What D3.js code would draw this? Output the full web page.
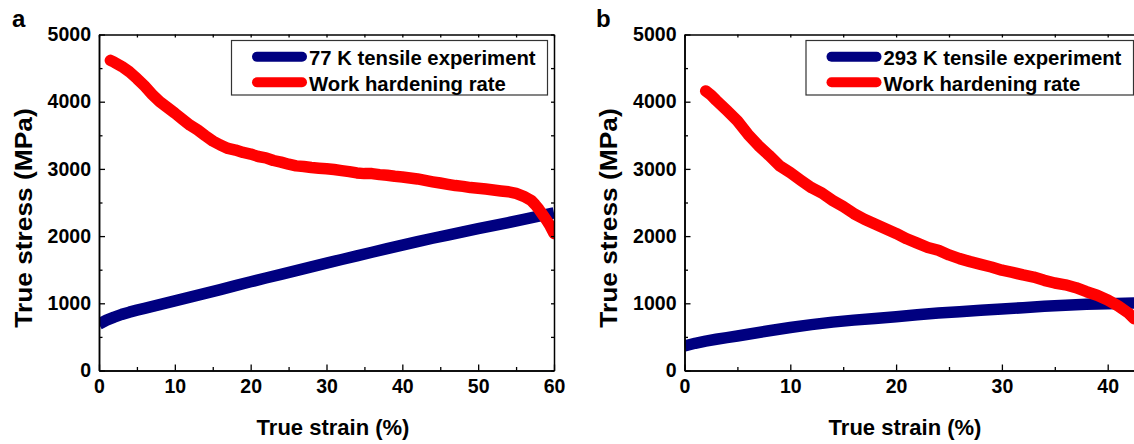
<!DOCTYPE html>
<html>
<head>
<meta charset="utf-8">
<script src="https://cdn.jsdelivr.net/npm/d3@7"></script>
<style>
  html, body { margin: 0; padding: 0; background: #fff; }
  svg { display: block; }
  text { font-family: "Liberation Sans", Arial, Helvetica, sans-serif; font-weight: bold; fill: #000; }
</style>
</head>
<body>
<svg id="chart" width="1134" height="444"></svg>
<script>
// ---- Panel a: 77 K ----
const strainA77 = [0, 1, 2, 3, 4, 5, 6, 8, 10, 12, 14, 16, 18, 20, 22, 24, 26, 28, 30, 32, 34, 36, 38, 40, 42, 44, 46, 48, 50, 52, 54, 56, 58, 60];
const stressA77 = [690, 750, 795, 835, 868, 898, 925, 980, 1036, 1092, 1148, 1204, 1262, 1320, 1376, 1430, 1486, 1542, 1598, 1652, 1706, 1760, 1814, 1866, 1918, 1968, 2016, 2064, 2110, 2156, 2202, 2248, 2296, 2345];

const strainAHard = [1.5, 2, 3, 4, 5, 6, 7, 8, 9, 10, 11, 12, 13, 14, 15, 16, 17, 18, 19, 20, 21, 22, 23, 24, 25, 26, 27, 28, 29, 30, 31, 32, 33, 34, 35, 36, 37, 38, 39, 40, 41, 42, 43, 44, 45, 46, 47, 48, 49, 50, 51, 52, 53, 54, 55, 56, 57, 57.5, 58, 58.5, 59, 59.5, 60];
const hardA = [4615, 4588, 4525, 4445, 4345, 4235, 4110, 4000, 3915, 3830, 3740, 3650, 3580, 3495, 3415, 3355, 3305, 3280, 3245, 3220, 3185, 3165, 3125, 3100, 3070, 3045, 3035, 3020, 3010, 3002, 2990, 2975, 2960, 2940, 2930, 2930, 2915, 2905, 2890, 2880, 2865, 2850, 2828, 2808, 2790, 2770, 2752, 2740, 2722, 2712, 2700, 2686, 2672, 2660, 2635, 2592, 2530, 2470, 2400, 2320, 2240, 2150, 2040];

// ---- Panel b: 293 K ----
const strainB293 = [0, 1, 2, 3, 4, 5, 6, 8, 10, 12, 14, 16, 18, 20, 22, 24, 26, 28, 30, 32, 34, 36, 38, 40, 43];
const stressB293 = [365, 405, 438, 465, 490, 514, 540, 592, 640, 682, 720, 750, 775, 800, 830, 855, 875, 895, 915, 935, 955, 970, 985, 995, 1008];

const strainBHard = [2, 2.5, 3, 4, 5, 6, 7, 8, 9, 10, 11, 12, 13, 14, 15, 16, 17, 18, 19, 20, 21, 22, 23, 24, 25, 26, 27, 28, 29, 30, 31, 32, 33, 34, 35, 36, 37, 38, 39, 40, 41, 42, 42.5];
const hardB = [4160, 4100, 4020, 3870, 3715, 3515, 3345, 3200, 3045, 2945, 2830, 2720, 2640, 2530, 2440, 2335, 2250, 2180, 2110, 2040, 1960, 1895, 1830, 1790, 1720, 1665, 1620, 1580, 1540, 1492, 1460, 1422, 1390, 1342, 1302, 1275, 1232, 1172, 1120, 1050, 960, 850, 770];

// ---- Axes and labels ----
const yTicks = [0, 1000, 2000, 3000, 4000, 5000];
const yMinor = [500, 1500, 2500, 3500, 4500];
const xTicksA = [0, 10, 20, 30, 40, 50, 60];
const xTicksB = [0, 10, 20, 30, 40];
const legendA = ["77 K tensile experiment", "Work hardening rate"];
const legendB = ["293 K tensile experiment", "Work hardening rate"];
const seriesColors = ["#000080", "#ff0000"];

const svg = d3.select("#chart");

function drawPanel(p) {
  const g = svg.append("g");
  const x = d3.scaleLinear().domain(p.xDomain).range([p.left, p.right]);
  const y = d3.scaleLinear().domain([0, 5000]).range([370.5, 34.5]);
  const [top, bottom] = [y(5000), y(0)];

  const clipId = "clip-" + p.key;
  svg.append("defs").append("clipPath").attr("id", clipId)
    .append("rect").attr("x", p.left).attr("y", top)
    .attr("width", p.right - p.left).attr("height", bottom - top);

  // data curves
  const line = d3.line().x(d => x(d[0])).y(d => y(d[1]));
  const plot = g.append("g").attr("clip-path", `url(#${clipId})`);
  plot.append("path")
    .datum(p.strain.map((s, i) => [s, p.stress[i]]))
    .attr("d", line).attr("fill", "none")
    .attr("stroke", seriesColors[0]).attr("stroke-width", 11.5)
    .attr("stroke-linejoin", "round").attr("stroke-linecap", "butt");
  plot.append("path")
    .datum(p.hStrain.map((s, i) => [s, p.hard[i]]))
    .attr("d", line).attr("fill", "none")
    .attr("stroke", seriesColors[1]).attr("stroke-width", 11.5)
    .attr("stroke-linejoin", "round").attr("stroke-linecap", "round");

  const minorX = d3.range(5, p.xDomain[1], 10);

  // frame axes (ticks point inward)
  const axStyle = sel => {
    sel.selectAll("path.domain").attr("stroke", "#000").attr("stroke-width", 1.5);
    sel.selectAll(".tick line").attr("stroke", "#000").attr("stroke-width", 1.3);
  };
  const bottomAx = g.append("g").attr("transform", `translate(0,${bottom})`)
    .call(d3.axisBottom(x).tickValues(p.xTicks).tickFormat(d3.format("d"))
      .tickSizeInner(-6).tickSizeOuter(0).tickPadding(9));
  bottomAx.selectAll("text").attr("font-size", 19.5);
  bottomAx.call(axStyle);
  g.append("g").attr("transform", `translate(0,${bottom})`)
    .call(d3.axisBottom(x).tickValues(minorX).tickFormat("").tickSizeInner(-3.5).tickSizeOuter(0))
    .call(axStyle);

  const leftAx = g.append("g").attr("transform", `translate(${p.left},0)`)
    .call(d3.axisLeft(y).tickValues(yTicks).tickFormat(d3.format("d"))
      .tickSizeInner(-6).tickSizeOuter(0).tickPadding(8));
  leftAx.selectAll("text").attr("font-size", 19.5);
  leftAx.call(axStyle);
  g.append("g").attr("transform", `translate(${p.left},0)`)
    .call(d3.axisLeft(y).tickValues(yMinor).tickFormat("").tickSizeInner(-3.5).tickSizeOuter(0))
    .call(axStyle);

  g.append("g").attr("transform", `translate(0,${top})`)
    .call(d3.axisTop(x).tickValues(p.xTicks.concat(minorX)).tickFormat("").tickSizeInner(-3).tickSizeOuter(0))
    .call(axStyle);
  g.append("g").attr("transform", `translate(${p.right},0)`)
    .call(d3.axisRight(y).tickValues(yTicks.concat(yMinor)).tickFormat("").tickSizeInner(-3).tickSizeOuter(0))
    .call(axStyle);

  // axis titles
  g.append("text").attr("x", p.xTitleX).attr("y", 435)
    .attr("text-anchor", "middle").attr("font-size", 22).text("True strain (%)");
  g.append("text")
    .attr("transform", `translate(${p.yTitleX},218) rotate(-90) scale(1.12,1)`)
    .attr("text-anchor", "middle").attr("font-size", 23.5).text("True stress (MPa)");

  // panel letter
  g.append("text").attr("x", p.letterX).attr("y", 27)
    .attr("font-size", 24).text(p.letter);

  // legend
  const lg = g.append("g");
  lg.append("rect").attr("x", p.legX + 0.5).attr("y", 40.5)
    .attr("width", p.legW).attr("height", 54.5)
    .attr("fill", "#fff").attr("stroke", "#333").attr("stroke-width", 1.2);
  p.legend.forEach((label, i) => {
    const ly = 56.7 + i * 25.6;
    lg.append("line").attr("x1", p.legX + 26).attr("x2", p.legX + 71)
      .attr("y1", ly).attr("y2", ly)
      .attr("stroke", seriesColors[i]).attr("stroke-width", 10).attr("stroke-linecap", "round");
    lg.append("text").attr("x", p.legX + 78).attr("y", ly + 8.3)
      .attr("font-size", 20.3).text(label);
  });
}

drawPanel({
  key: "a", letter: "a", letterX: 12,
  xDomain: [0, 60], left: 99, right: 554, xTicks: xTicksA,
  strain: strainA77, stress: stressA77, hStrain: strainAHard, hard: hardA,
  xTitleX: 333, yTitleX: 31.5, legX: 231, legW: 316, legend: legendA
});
drawPanel({
  key: "b", letter: "b", letterX: 596,
  xDomain: [0, 43], left: 684.5, right: 684.5 + 43 * 10.58, xTicks: xTicksB,
  strain: strainB293, stress: stressB293, hStrain: strainBHard, hard: hardB,
  xTitleX: 905, yTitleX: 616.5, legX: 805.5, legW: 327.5, legend: legendB
});
</script>
</body>
</html>
